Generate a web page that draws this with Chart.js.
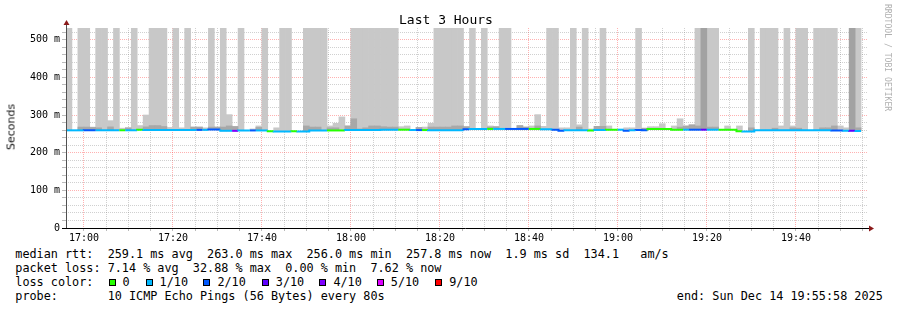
<!DOCTYPE html>
<html><head><meta charset="utf-8">
<script src="https://cdn.jsdelivr.net/npm/chart.js@4.4.1/dist/chart.umd.min.js"></script>
<style>
html,body{margin:0;padding:0;background:#fff;}
#wrap{position:relative;width:897px;height:310px;overflow:hidden;background:#fff;}
#c{position:absolute;left:0;top:0;}
.t{position:absolute;font-family:"DejaVu Sans Mono",monospace;font-size:11.8px;line-height:14px;color:#000;white-space:pre;}
.sq{position:absolute;width:5px;height:5px;border:1px solid #000;top:279px;}
#title{position:absolute;left:399px;top:12px;font-family:"DejaVu Sans Mono",monospace;font-size:13px;line-height:15px;white-space:pre;color:#000;}
#ylab{position:absolute;left:11px;top:127px;transform:translate(-50%,-50%) rotate(-90deg);font-family:"DejaVu Sans",sans-serif;font-size:11px;line-height:13px;white-space:pre;color:#111;}
#wm{position:absolute;left:883px;top:4px;writing-mode:vertical-rl;font-family:"DejaVu Sans Mono",monospace;font-size:8.1px;color:#b0b0b0;white-space:pre;}
</style></head>
<body>
<div id="wrap">
<canvas id="c" width="897" height="245"></canvas>
<div id="title">Last 3 Hours</div>
<div id="ylab">Seconds</div>
<div id="wm">RRDTOOL / TOBI OETIKER</div>
<div id="legend"></div>
</div>
<script>
// ---- data (ms) ----
const startLabel = '16:55:58';
const stepSeconds = 80;
const spanSeconds = 10800;
const lossColors = ['#26ff00','#00b8ff','#0059ff','#5e00ff','#7e00ff','#dd00ff','#ff0000'];
const lossNames  = ['0','1/10','2/10','3/10','4/10','5/10','9/10'];
const median = [
 259.3,259.3,259.3,259.5,259.5,259.5,259.5,259.5,259.5,259.5,
 259.5,259.5,261,260.5,260.5,260.5,260.5,260.5,260.5,260.5,
 260.5,260.5,260.5,260.5,261.3,261.3,258,258,258,259,
 259,259,259,259,256.6,256,256,256,256.6,256,
 256,259,259,259,259,259,259,260,260,260,
 260,260,260,261,261,261,261,261,260,260,
 260,259.8,259.6,259.6,259.6,259.6,259.6,262,263,263,
 263,263,263,263,263,263,263,263,263,263,
 262.5,262.5,261,258.5,259.5,259.5,259.5,259.5,259,260,
 260,261,261,261,258.5,259.5,260.5,259.5,263,263,
 263,263,261,261,261,261,261,261,261,261,
 261,261,261,257,256,256,259.5,259.5,259.5,259.5,
 259.5,259.5,259.5,259.5,259.5,259.5,259.5,259.5,259.5,259,
 259,258.5,258,257.8];
const lossLevel = [
 1,1,1,2,2,1,1,1,1,0,
 1,1,0,1,1,1,1,1,1,1,
 1,1,2,1,2,2,1,1,4,1,
 1,2,1,1,0,1,1,1,0,1,
 1,1,1,1,0,0,0,1,1,1,
 1,1,1,1,1,1,0,0,1,2,
 0,1,1,1,1,1,1,2,1,1,
 1,0,1,1,2,2,2,2,0,0,
 1,1,2,2,1,1,1,1,0,1,
 1,0,0,1,2,1,2,2,0,0,
 0,0,0,0,1,2,2,3,1,1,
 0,0,0,0,1,1,1,1,1,1,
 1,1,1,1,1,1,1,1,1,2,
 2,1,3,1];
const smokeTop = [
 531,null,531,531,268,531,531,285,531,265,
 266,531,272,300,531,531,531,267,531,266,
 531,268,268,266,531,268,531,301,269.5,531,
 null,263,271,531,null,266,531,531,null,null,
 531,531,531,531,271,278,295,271,531,531,
 531,531,531,531,531,531,269,271,null,267,
 268,278,531,531,531,531,531,269,531,null,
 531,271,269,531,531,null,272,268,271,301,
 270,531,531,266,266,531,274,531,263,270,
 531,271,null,null,266,266,531,265,269,269,
 277,null,271,290,272,274,531,531,531,531,
 null,271,null,271,null,531,null,531,531,531,
 271,531,271,531,531,null,531,531,531,531,
 271,266,531,531];
const smokeDark = [
 null,null,268,268,267,266,null,268.5,null,null,
 266,null,null,268.5,272,272,269.5,null,null,null,
 null,268,268,null,268,268,268,271,269.5,null,
 null,null,267,null,null,null,null,null,null,null,
 271,268,268,null,266,266,null,271,290,263,
 266,271,271,269,268,268,null,null,null,267,
 null,268,268,268,268,271,271,269,null,null,
 null,268,269,null,null,null,272,268,null,271,
 null,null,null,null,null,null,268,null,null,270,
 270,null,null,null,null,null,null,265,null,null,
 null,null,null,268,270,274,271,531,268,268,
 null,null,null,null,null,266,null,null,null,265,
 null,null,266,265,null,null,null,266,266,271,
 null,null,531,266];
const xTickLabels = ['17:00','17:20','17:40','18:00','18:20','18:40','19:00','19:20','19:40'];
const yTickLabels = ['0','100 m','200 m','300 m','400 m','500 m'];
const yMax = 531;

const toMin = s => { const p = s.split(':').map(Number); return (p[0]-16)*60 + p[1] + (p[2]||0)/60; };
const t0 = toMin(startLabel);
const stepMin = stepSeconds/60;
const tEnd = t0 + spanSeconds/60;
const N = median.length;
const mid = i => t0 + (i + 0.5) * stepMin;

const lightData = median.map((m,i) => ({x: mid(i), y: smokeTop[i] == null ? null : [m, smokeTop[i]]}));
const darkData  = median.map((m,i) => ({x: mid(i), y: smokeDark[i] == null ? null : [m, smokeDark[i]]}));
const lineData = [];
median.forEach((m,i) => { lineData.push({x: t0 + i*stepMin, y: m}); lineData.push({x: t0 + (i+1)*stepMin, y: m}); });

const xTickVals = [];
for (let v = Math.ceil(t0/5)*5; v <= tEnd; v += 5) xTickVals.push(v);
const xMajor = xTickLabels.map(toMin);
const yTickVals = [];
for (let v = 0; v <= yMax; v += 20) yTickVals.push(v);

const MINOR = 'rgba(120,120,120,0.35)';
const MAJOR = 'rgba(255,60,60,0.4)';

const axesPlugin = {
  id: 'axesArrows',
  afterDraw(chart) {
    const {ctx, chartArea: a} = chart;
    ctx.save();
    ctx.lineWidth = 1;
    ctx.strokeStyle = '#505050';
    ctx.beginPath(); ctx.moveTo(a.left + 0.5, a.bottom + 1); ctx.lineTo(a.left + 0.5, a.top - 4); ctx.stroke();
    ctx.strokeStyle = '#000';
    ctx.beginPath(); ctx.moveTo(a.left - 4, a.bottom + 0.5); ctx.lineTo(a.right + 2, a.bottom + 0.5); ctx.stroke();
    ctx.fillStyle = '#8b1a1a';
    ctx.beginPath(); ctx.moveTo(a.left + 0.5, a.top - 8); ctx.lineTo(a.left - 2.5, a.top - 3); ctx.lineTo(a.left + 3.5, a.top - 3); ctx.closePath(); ctx.fill();
    ctx.beginPath(); ctx.moveTo(a.right + 7, a.bottom + 0.5); ctx.lineTo(a.right + 2, a.bottom - 2.5); ctx.lineTo(a.right + 2, a.bottom + 3.5); ctx.closePath(); ctx.fill();
    ctx.restore();
  }
};

new Chart(document.getElementById('c'), {
  type: 'bar',
  data: {
    datasets: [
      {type: 'line', data: lineData, order: 0, borderWidth: 2, pointRadius: 0, tension: 0,
       borderCapStyle: 'butt', borderColor: lossColors[1],
       segment: {borderColor: ctx => lossColors[lossLevel[Math.min(N-1, Math.floor(ctx.p1DataIndex/2))]]}},
      {data: darkData, order: 1, backgroundColor: median.map((m,i) => smokeDark[i] >= yMax ? '#a2a2a2' : '#a8a8a8'),
       borderWidth: 0, grouped: false, barPercentage: 1, categoryPercentage: 1},
      {data: lightData, order: 2, backgroundColor: '#c8c8c8', borderWidth: 0, grouped: false, barPercentage: 1, categoryPercentage: 1}
    ]
  },
  options: {
    responsive: false, animation: false, devicePixelRatio: 1,
    layout: {padding: {left: 0, top: 28, right: 30, bottom: 0}},
    plugins: {legend: {display: false}, tooltip: {enabled: false}},
    scales: {
      x: {
        type: 'linear', min: t0, max: tEnd, offset: false, z: 1,
        afterBuildTicks: ax => { ax.ticks = xTickVals.map(v => ({value: v})); },
        afterFit: s => { s.height = 17; },
        grid: {offset: false, lineWidth: 1, tickLength: 3,
               color: c => (c.tick && xMajor.includes(c.tick.value)) ? MAJOR : MINOR,
               tickColor: 'rgba(120,120,120,0.5)'},
        border: {display: false, dash: [1,1]},
        ticks: {autoSkip: false, maxRotation: 0, minRotation: 0, padding: 1, color: '#000',
                font: {family: 'DejaVu Sans Mono', size: 10},
                callback: v => { const k = xMajor.indexOf(v); return k >= 0 ? xTickLabels[k] : ''; }}
      },
      y: {
        min: 0, max: yMax, z: 1,
        afterBuildTicks: ax => { ax.ticks = yTickVals.map(v => ({value: v})); },
        afterFit: s => { s.width = 66; },
        grid: {lineWidth: 1, tickLength: 4,
               color: c => (c.tick && c.tick.value % 100 === 0) ? MAJOR : MINOR,
               tickColor: 'rgba(120,120,120,0.5)'},
        border: {display: false, dash: [1,1]},
        ticks: {autoSkip: false, padding: 2, color: '#000', font: {family: 'DejaVu Sans Mono', size: 10},
                callback: v => v % 100 === 0 ? yTickLabels[v/100] : ''}
      }
    }
  },
  plugins: [axesPlugin]
});

const legendRows = [
  {top: 246.6, items: [[15.3,'median rtt:  259.1 ms avg  263.0 ms max  256.0 ms min  257.8 ms now  1.9 ms sd  134.1   am/s']]},
  {top: 260.6, items: [[15.3,'packet loss: 7.14 % avg  32.88 % max  0.00 % min  7.62 % now']]},
  {top: 274.9, items: [[15.3,'loss color:']]},
  {top: 288.9, items: [[15.3,'probe:       10 ICMP Echo Pings (56 Bytes) every 80s'],[676.8,'end: Sun Dec 14 19:55:58 2025']]}
];
const lossSquareX = [108.7,145.7,203.3,261.7,319.3,377,435];
const lossLabelX  = [122.4,159.6,217.4,275.8,333.4,390.8,449.2];
const L = document.getElementById('legend');
legendRows.forEach(r => r.items.forEach(([x,s]) => {
  const d = document.createElement('div'); d.className = 't'; d.style.left = x + 'px'; d.style.top = r.top + 'px'; d.textContent = s; L.appendChild(d);
}));
lossNames.forEach((n,i) => {
  const q = document.createElement('div'); q.className = 'sq'; q.style.left = lossSquareX[i] + 'px'; q.style.background = lossColors[i]; L.appendChild(q);
  const d = document.createElement('div'); d.className = 't'; d.style.left = lossLabelX[i] + 'px'; d.style.top = '274.9px'; d.textContent = n; L.appendChild(d);
});
</script>
</body></html>
